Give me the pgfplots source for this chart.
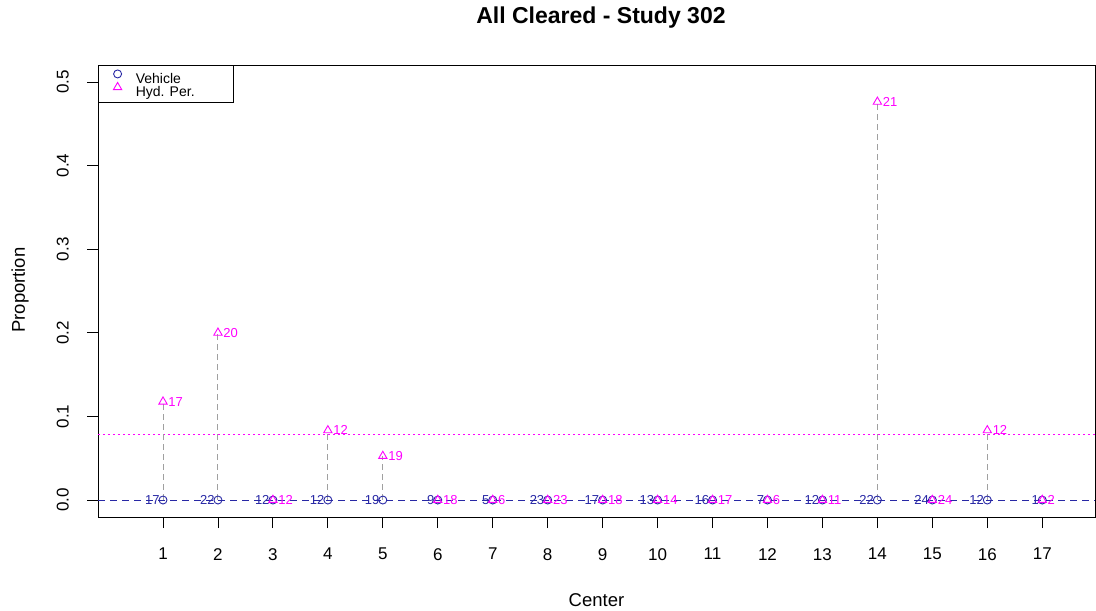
\documentclass[border=0pt]{standalone}
\usepackage{fontspec}
\setmainfont{Liberation Sans}
\usepackage{pgfplots}
\usepackage{pgfplotstable}
\pgfplotsset{compat=1.18}
\definecolor{vblue}{RGB}{40,40,165}
\definecolor{hmag}{RGB}{255,0,255}
\definecolor{segray}{RGB}{160,160,160}
\newcommand\p[1]{#1\hspace{5pt}}

\pgfplotstableread{
x y n
1 0 17
2 0 22
3 0 12
4 0 12
5 0 19
6 0 \p{9}
7 0 \p{5}
8 0 23
9 0 17
10 0 13
11 0 16
12 0 \p{7}
13 0 12
14 0 22
15 0 24
16 0 12
17 0 \p{1}
}\vehicle

\pgfplotstableread{
x y n
1 0.1176 17
2 0.2000 20
3 0 12
4 0.0833 12
5 0.0526 19
6 0 18
7 0 6
8 0 23
9 0 18
10 0 14
11 0 17
12 0 6
13 0 11
14 0.4762 21
15 0 24
16 0.0833 12
17 0 2
}\hydper

\begin{document}
\begin{tikzpicture}
\begin{axis}[
  name=ax,
  scale only axis, width=997pt, height=452pt,
  xmin=-0.183, xmax=17.96, ymin=-0.0203, ymax=0.5203,
  xtick={1,...,17},
  ytick={0,0.1,0.2,0.3,0.4,0.5},
  yticklabels={0.0,0.1,0.2,0.3,0.4,0.5},
  tick align=outside, major tick length=11pt,
  xtick pos=bottom, ytick pos=left,
  axis line style={line width=0.9pt},
  every tick/.style={black, line width=0.9pt},
  /pgf/number format/assume math mode=true,
  tick label style={font=\fontsize{17}{17}\selectfont, inner sep=0pt},
  xticklabel style={anchor=north, yshift=-20pt},
  yticklabel style={xshift=-18pt, rotate=90, anchor=south},
  xlabel={Center}, ylabel={Proportion},
  label style={font=\fontsize{18.5}{18.5}\selectfont},
  xlabel style={at={(axis description cs:0.5,-0.1836)}, anchor=center},
  ylabel style={at={(axis description cs:-0.0782,0.502)}, anchor=center, rotate=0},
  title={All Cleared - Study 302},
  title style={at={(axis description cs:0.5045,1.091)}, anchor=center, font=\fontsize{23}{23}\selectfont\bfseries},
  legend style={at={(axis description cs:0,1)}, anchor=north west, draw=black, line width=0.9pt,
    font=\fontsize{14}{14}\selectfont, inner xsep=15pt, inner ysep=4.5pt, column sep=14pt, row sep=-2pt,
    nodes={text height=10pt, text depth=1pt, inner sep=0pt}},
  legend cell align=left,
  legend image code/.code={\draw[#1] plot coordinates {(0pt,5pt)};},
]
% horizontal reference lines
\addplot[vblue, line width=1pt, dash pattern=on 7pt off 5pt, forget plot] coordinates {(-0.183,0) (17.96,0)};
\addplot[hmag, line width=1pt, dash pattern=on 2pt off 3pt, forget plot] coordinates {(-0.183,0.0785) (17.96,0.0785)};
% vertical segments
\addplot[ycomb, segray, line width=1pt, dash pattern=on 6pt off 4pt, forget plot] table[x=x,y=y] {\hydper};
% vehicle
\addplot[only marks, mark=o, mark size=4pt, vblue, line width=0.9pt,
  point meta=explicit symbolic, nodes near coords,
  every node near coord/.style={anchor=east, xshift=-3pt, font=\fontsize{13}{13}\selectfont, text=vblue, inner sep=0pt}]
  table[x=x,y=y,meta=n] {\vehicle};
\addlegendentry{\makebox[83pt][l]{Vehicle}}
% hyd per
\addplot[only marks, mark=triangle, mark size=4.8pt, hmag, line width=0.9pt,
  point meta=explicit symbolic, nodes near coords,
  every node near coord/.style={anchor=west, xshift=5pt, font=\fontsize{13}{13}\selectfont, text=hmag, inner sep=0pt}]
  table[x=x,y=y,meta=n] {\hydper};
\addlegendentry{\makebox[83pt][l]{Hyd. Per.}}
\end{axis}
\path ([xshift=-98pt,yshift=-93pt]ax.south west) rectangle ([xshift=1pt,yshift=65pt]ax.north east);
\end{tikzpicture}
\end{document}
